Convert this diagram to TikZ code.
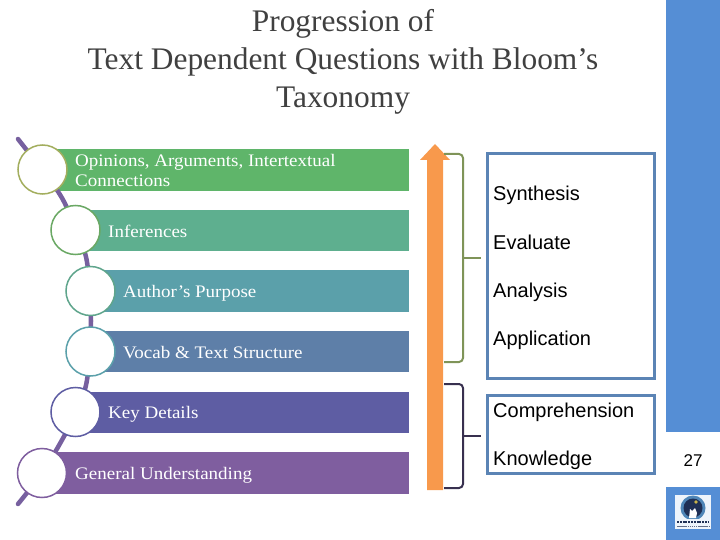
\documentclass[tikz,border=0pt]{standalone}
\usepackage{fontspec}
\setmainfont{Liberation Serif}
\newfontfamily\arialf{Liberation Sans}
\newfontfamily\barf[FakeStretch=1.08]{Liberation Serif}
\definecolor{pathpurple}{HTML}{77609F}
\definecolor{boxblue}{HTML}{5B84B5}
\definecolor{bandblue}{HTML}{558ED5}
\definecolor{arroworange}{HTML}{F8994C}
\definecolor{braceolive}{HTML}{7F9458}
\definecolor{bracedark}{HTML}{38304F}
\definecolor{barA}{HTML}{5FB56A}
\definecolor{barB}{HTML}{5EAF8F}
\definecolor{barC}{HTML}{5BA0AA}
\definecolor{barD}{HTML}{5E7FA8}
\definecolor{barE}{HTML}{5E5DA3}
\definecolor{barF}{HTML}{7F5E9F}
\definecolor{ringA}{HTML}{A3AE5E}
\definecolor{ringB}{HTML}{6AA864}
\definecolor{ringC}{HTML}{5FA58C}
\definecolor{ringD}{HTML}{5BA0AA}
\definecolor{ringE}{HTML}{5E5DA3}
\definecolor{ringF}{HTML}{7F5E9F}
\definecolor{titlegray}{HTML}{404040}
\definecolor{logonavy}{HTML}{1F2F55}
\definecolor{logoblue}{HTML}{4F86B8}
\definecolor{logogold}{HTML}{C9B44A}
\tikzset{
  titletext/.style={anchor=base,inner sep=0pt,font=\fontsize{31.4}{31.4}\selectfont,text=titlegray},
  bartext/.style={anchor=base west,inner sep=0pt,font=\barf\fontsize{17.6}{17.6}\selectfont,text=white},
  sidetext/.style={anchor=base west,inner sep=0pt,font=\arialf\fontsize{20}{20}\selectfont,text=black},
  ring/.style={circle,draw=#1,line width=1.5pt,fill=white,minimum size=49pt,inner sep=0pt},
  bluebox/.style={draw=boxblue,line width=3pt,fill=white,inner sep=0pt},
  brace/.style={draw=#1,line width=2pt,rounded corners=4pt},
  band/.style={fill=bandblue,draw=none}
}
\begin{document}
\begin{tikzpicture}[x=1pt,y=-1pt]
\useasboundingbox (0,0) rectangle (720,540);
\fill[white] (0,0) rectangle (720,540);
% bands
\fill[band] (666,0) rectangle (720,432);
\fill[band] (666,487) rectangle (720,540);
% title
\node[titletext] (t1) at (343,32) {Progression of};
\node[titletext] (t2) at (343,70) {Text Dependent Questions with Bloom’s};
\node[titletext] (t3) at (343,108) {Taxonomy};
% bars
\fill[barA] (42,149) rectangle (409,191);
\fill[barB] (75,210) rectangle (409,251);
\fill[barC] (90,270) rectangle (409,312);
\fill[barD] (90,331) rectangle (409,372);
\fill[barE] (75,392) rectangle (409,433);
\fill[barF] (42,452) rectangle (409,494);
% spine
\draw[pathpurple,line width=4.5pt,line cap=round] plot[smooth,tension=0.6] coordinates
  {(18,139) (42,170) (62,198) (76,230) (87,262) (91,321) (87,380) (76,412) (62,440) (42,473) (18,504)};
% rings
\node[ring=ringA] (c1) at (42.5,169.5) {};
\node[ring=ringB] (c2) at (75.5,230) {};
\node[ring=ringC] (c3) at (90.5,291) {};
\node[ring=ringD] (c4) at (90.5,351.5) {};
\node[ring=ringE] (c5) at (75.5,412) {};
\node[ring=ringF] (c6) at (42,473) {};
% bar text
\node[bartext] (b1a) at (75,167) {Opinions, Arguments, Intertextual};
\node[bartext] (b1b) at (75,187) {Connections};
\node[bartext] (b2) at (108,237) {Inferences};
\node[bartext] (b3) at (123,297) {Author’s Purpose};
\node[bartext] (b4) at (123,358) {Vocab \& Text Structure};
\node[bartext] (b5) at (108,418) {Key Details};
\node[bartext] (b6) at (75,479) {General Understanding};
% arrow
\fill[arroworange] (427,490) -- (427,160) -- (420,160) -- (435,144) -- (450,160) -- (443,160) -- (443,490) -- cycle;
% boxes
\node[bluebox,minimum width=167pt,minimum height=224pt] (bx1) at (570.5,266) {};
\node[bluebox,minimum width=167pt,minimum height=78pt] (bx2) at (570.5,434) {};
% side text
\node[sidetext] (s1) at (493,201) {Synthesis};
\node[sidetext] (s2) at (493,249) {Evaluate};
\node[sidetext] (s3) at (493,297) {Analysis};
\node[sidetext] (s4) at (493,345) {Application};
\node[sidetext] (s5) at (493,417) {Comprehension};
\node[sidetext] (s6) at (493,465) {Knowledge};
\node[inner sep=0pt,anchor=base,font=\arialf\fontsize{17}{17}\selectfont] (pg) at (693,466) {27};
% braces
\coordinate (m1) at (481,258);
\coordinate (m2) at (481,436);
\coordinate (j1) at (463,258);
\coordinate (j2) at (463,436);
\draw[brace=braceolive] (444,154) -- (463,154) -- (j1) -- (463,362) -- (444,362);
\draw[braceolive,line width=2pt] (j1) -- (m1);
\draw[brace=bracedark] (444,384) -- (463,384) -- (j2) -- (463,488) -- (444,488);
\draw[bracedark,line width=2pt] (j2) -- (m2);
% logo
\fill[white!90!bandblue] (675,495) rectangle (711,529);
\fill[logoblue] (693,508) circle (12.5);
\fill[logonavy] (693,508) circle (9.5);
\fill[logogold] (696,502) circle (1.8);
\fill[white] (689,518) -- (690,509) -- (692,511) -- (695,508) -- (697,513) -- (696,518) -- cycle;
\fill[white!90!bandblue] (675,519) rectangle (711,529);
\draw[logonavy,line width=1.6pt,dash pattern=on 2pt off 0.8pt] (677,522) -- (709,522);
\draw[logonavy!70,line width=1pt,dash pattern=on 1.5pt off 0.6pt] (677,526) -- (709,526);
\end{tikzpicture}
\end{document}
